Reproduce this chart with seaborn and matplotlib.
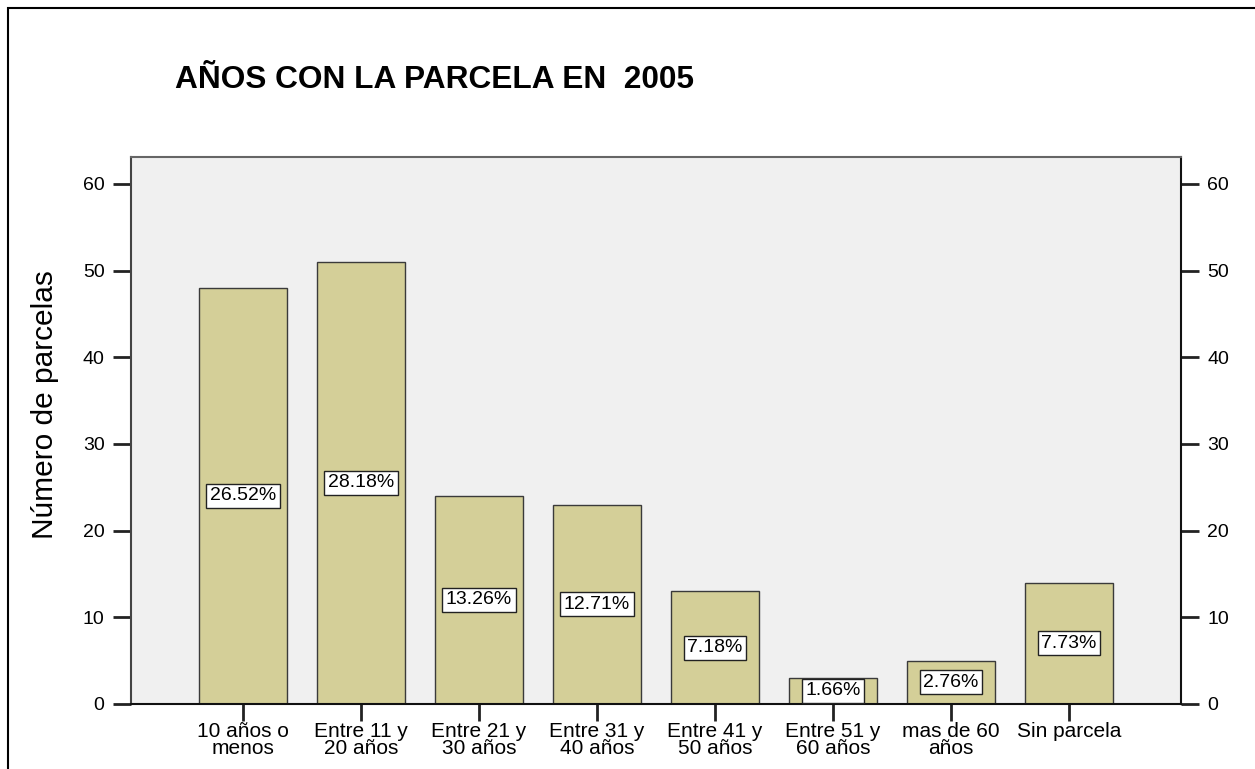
import pandas as pd
import numpy as np
import matplotlib.pyplot as plt
import seaborn as sns
from matplotlib.patches import Rectangle

# Data
categories = ["10 años o\nmenos", "Entre 11 y\n20 años", "Entre 21 y\n30 años", "Entre 31 y\n40 años",
              "Entre 41 y\n50 años", "Entre 51 y\n60 años", "mas de 60\naños", "Sin parcela"]
counts = [48, 51, 24, 23, 13, 3, 5, 14]
pct_labels = ["26.52%", "28.18%", "13.26%", "12.71%", "7.18%", "1.66%", "2.76%", "7.73%"]
y_ticks = [0, 10, 20, 30, 40, 50, 60]

df = pd.DataFrame({"cat": categories, "n": counts})

sns.set_style("white")
plt.rcParams['font.family'] = ['Liberation Sans', 'DejaVu Sans']
plt.rcParams['text.color'] = 'black'
plt.rcParams['axes.labelcolor'] = 'black'
plt.rcParams['xtick.color'] = 'black'
plt.rcParams['ytick.color'] = 'black'

fig = plt.figure(figsize=(12.55, 7.69), dpi=100)
ax = fig.add_axes([131/1255, 1 - 704/769, 1050/1255, 547/769])
ax.set_facecolor("#F0F0F0")

sns.barplot(data=df, x="cat", y="n", color="#D4CF98", width=0.75,
            edgecolor="#3a3a3a", linewidth=1.0, saturation=1, ax=ax)

ax.set_xlim(-0.95, 7.95)
ax.set_ylim(0, 63.1)
ax.set_yticks(y_ticks)
ax.set_xlabel("")
ax.set_ylabel("Número de parcelas", fontsize=21.5)
ax.yaxis.set_label_coords(-0.069, 0.547)

ax.tick_params(axis="y", which="both", direction="out", length=13, width=2, color="#222222",
               labelsize=14, left=True, right=True, labelleft=True, labelright=True, pad=6)
ax.tick_params(axis="x", direction="out", length=12, width=2, color="#222222",
               labelsize=15, bottom=True, pad=1)
for lbl in ax.get_xticklabels():
    lbl.set_linespacing(0.85)

ax.spines["left"].set_color("#444444")
ax.spines["top"].set_color("#666666")
ax.spines["right"].set_color("#111111")
ax.spines["bottom"].set_color("#111111")
for s in ax.spines.values():
    s.set_linewidth(1.5)

# percentage labels at half height
for i, (v, t) in enumerate(zip(counts, pct_labels)):
    ax.text(i, v / 2, t, ha="center", va="center", fontsize=14,
            bbox=dict(boxstyle="square,pad=0.18", facecolor="white", edgecolor="#222222", linewidth=1))

fig.text(175/1255, 1 - 80/769, "AÑOS CON LA PARCELA EN  2005", fontsize=22.8, fontweight="bold",
         ha="left", va="center")

# outer frame
fig.patches.append(Rectangle((8/1255, -0.1), 1.2, 1 - 8/769 + 0.1, transform=fig.transFigure,
                             fill=False, edgecolor="black", linewidth=1.5))

fig.savefig("out.png", dpi=100)
